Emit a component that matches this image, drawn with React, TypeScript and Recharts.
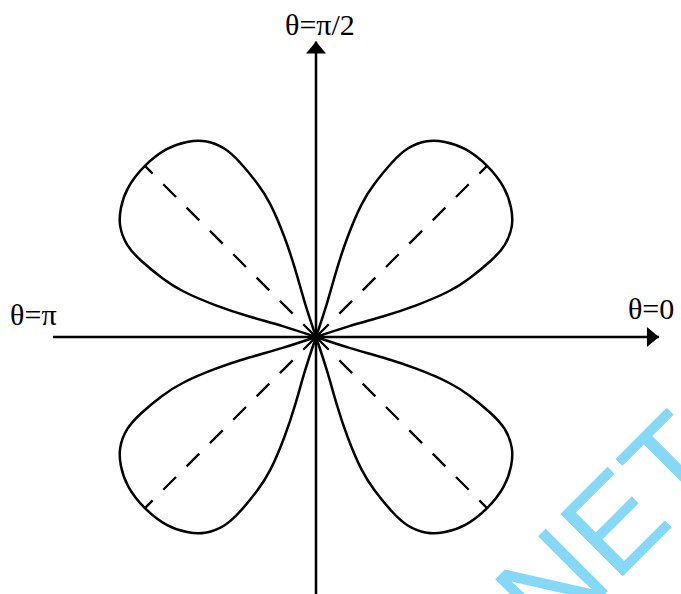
import React from 'react';
import { ScatterChart, Scatter, XAxis, YAxis } from 'recharts';

// ---- chart frame (pixels) ----
const WIDTH = 681;
const HEIGHT = 594;
const ORIGIN_PX = { x: 316, y: 337 };
const PX_PER_UNIT = 242;

// ---- one leaf of the four-leaved rose, first quadrant, origin -> tip -> origin ----
const LEAF_X = [0, 0.138, 0.276, 0.414, 0.547, 0.636, 0.72, 0.78, 0.809, 0.806, 0.776, 0.707, 0.617, 0.533, 0.458, 0.381, 0.313, 0.244, 0.188, 0.131, 0.085, 0.045, 0];
const LEAF_Y = [0, 0.045, 0.085, 0.131, 0.188, 0.244, 0.313, 0.381, 0.458, 0.533, 0.617, 0.707, 0.776, 0.806, 0.809, 0.78, 0.72, 0.636, 0.547, 0.414, 0.276, 0.138, 0];
const LEAF_TIP_INDEX = 11;

// signs of (x, y) for the four leaves
const QUADRANT_SIGNS = [
  [1, 1],
  [-1, 1],
  [-1, -1],
  [1, -1],
];

// ---- axes (data units) ----
const X_AXIS_RANGE = [-1.087, 1.417];
const Y_AXIS_RANGE = [-1.1, 1.221];

// ---- axis captions ----
const CAPTION_TEXTS = ['θ=0', 'θ=π/2', 'θ=π'];
const CAPTION_POS = [
  { x: 1.289, y: 0.074 },
  { x: -0.128, y: 1.248 },
  { x: -1.264, y: 0.05 },
];

const WATERMARK = 'NET';

const xDomain = [-ORIGIN_PX.x / PX_PER_UNIT, (WIDTH - ORIGIN_PX.x) / PX_PER_UNIT];
const yDomain = [-(HEIGHT - ORIGIN_PX.y) / PX_PER_UNIT, ORIGIN_PX.y / PX_PER_UNIT];

const leaves = QUADRANT_SIGNS.map(([sx, sy]) =>
  LEAF_X.map((x, i) => ({ x: sx * x, y: sy * LEAF_Y[i] }))
);
const diagonals = QUADRANT_SIGNS.map(([sx, sy]) => [
  { x: 0, y: 0 },
  { x: sx * LEAF_X[LEAF_TIP_INDEX], y: sy * LEAF_Y[LEAF_TIP_INDEX] },
]);
const xAxisLine = [
  { x: X_AXIS_RANGE[0], y: 0 },
  { x: X_AXIS_RANGE[1], y: 0 },
];
const yAxisLine = [
  { x: 0, y: Y_AXIS_RANGE[0] },
  { x: 0, y: Y_AXIS_RANGE[1] },
];
const arrowTips = [
  { x: X_AXIS_RANGE[1], y: 0, dir: 'right' },
  { x: 0, y: Y_AXIS_RANGE[1], dir: 'up' },
];
const captions = CAPTION_TEXTS.map((text, i) => ({ ...CAPTION_POS[i], text }));

const NoPoint = () => <g />;

const ArrowHead = (props: any) => {
  const { cx, cy, payload } = props;
  const len = 12;
  const half = 10;
  const pts =
    payload.dir === 'right'
      ? `${cx},${cy} ${cx - len},${cy - half} ${cx - len},${cy + half}`
      : `${cx},${cy} ${cx - half},${cy + len} ${cx + half},${cy + len}`;
  return <polygon points={pts} fill="#000" />;
};

const Caption = (props: any) => {
  const { cx, cy, payload } = props;
  return (
    <text x={cx} y={cy} fontFamily="'Liberation Serif', 'Times New Roman', serif" fontSize={30} fill="#000">
      {payload.text}
    </text>
  );
};

export default function App() {
  return (
    <div style={{ position: 'absolute', left: 0, top: 0, width: WIDTH, height: HEIGHT, background: '#fff', overflow: 'hidden' }}>
      <svg
        width={WIDTH}
        height={HEIGHT}
        style={{ position: 'absolute', left: 0, top: 0 }}
      >
        <text
          x={550}
          y={649}
          transform="rotate(-45 550 649)"
          fontFamily="'Liberation Sans', Arial, sans-serif"
          fontSize={128}
          fill="#86D8F7"
        >
          {WATERMARK}
        </text>
      </svg>
      <div style={{ position: 'absolute', left: 0, top: 0 }}>
        <ScatterChart width={WIDTH} height={HEIGHT} margin={{ top: 0, right: 0, bottom: 0, left: 0 }}>
          <XAxis type="number" dataKey="x" domain={xDomain} hide allowDataOverflow />
          <YAxis type="number" dataKey="y" domain={yDomain} hide allowDataOverflow />
          <Scatter data={xAxisLine} line={{ stroke: '#000', strokeWidth: 2.5 }} shape={NoPoint} isAnimationActive={false} />
          <Scatter data={yAxisLine} line={{ stroke: '#000', strokeWidth: 2.5 }} shape={NoPoint} isAnimationActive={false} />
          {diagonals.map((d, i) => (
            <Scatter
              key={`diag-${i}`}
              data={d}
              line={{ stroke: '#000', strokeWidth: 2.3, strokeDasharray: '18 15' }}
              shape={NoPoint}
              isAnimationActive={false}
            />
          ))}
          {leaves.map((d, i) => (
            <Scatter
              key={`leaf-${i}`}
              data={d}
              line={{ stroke: '#000', strokeWidth: 2.5 }}
              lineJointType="natural"
              shape={NoPoint}
              isAnimationActive={false}
            />
          ))}
          <Scatter data={arrowTips} shape={ArrowHead} isAnimationActive={false} />
          <Scatter data={captions} shape={Caption} isAnimationActive={false} />
        </ScatterChart>
      </div>
    </div>
  );
}
